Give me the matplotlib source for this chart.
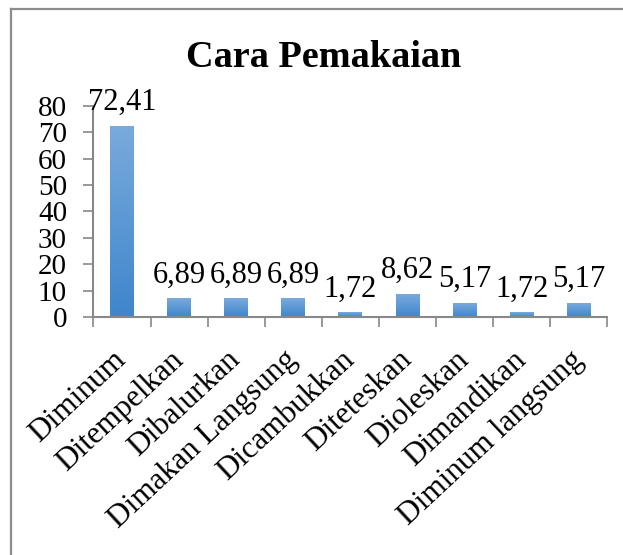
import numpy as np
import matplotlib.pyplot as plt
from matplotlib.colors import LinearSegmentedColormap
from matplotlib.lines import Line2D

# data
kategori = ['Diminum', 'Ditempelkan', 'Dibalurkan', 'Dimakan Langsung', 'Dicambukkan',
            'Diteteskan', 'Dioleskan', 'Dimandikan', 'Diminum langsung']
persen = [72.41, 6.89, 6.89, 6.89, 1.72, 8.62, 5.17, 1.72, 5.17]
yticks = [0, 10, 20, 30, 40, 50, 60, 70, 80]

plt.rcParams['font.family'] = ['Liberation Serif', 'DejaVu Serif']

fig = plt.figure(figsize=(6.23, 5.55), dpi=100)
ax = fig.add_axes([0.150, 0.429, 0.825, 0.380])

x = np.arange(len(kategori))
bars = ax.bar(x, persen, width=0.42, color='none', zorder=2)

# gradasi biru seperti Excel
cmap = LinearSegmentedColormap.from_list('biru', ['#3f86cc', '#79aadc'])
grad = np.linspace(0, 1, 100).reshape(-1, 1)
for b in bars:
    x0, y0 = b.get_x(), b.get_y()
    ax.imshow(grad, cmap=cmap, origin='lower', aspect='auto',
              extent=[x0, x0 + b.get_width(), y0, y0 + b.get_height()], zorder=2)

# label data dengan koma desimal
for xi, v in zip(x, persen):
    ax.annotate(f'{v:.2f}'.replace('.', ','), (xi, v), xytext=(0, 11.5),
                textcoords='offset points', ha='center', va='baseline', fontsize=22)

ax.set_xlim(-0.5, len(kategori) - 0.5)
ax.set_ylim(0, 80)
ax.set_yticks(yticks)
ax.set_yticklabels([str(t) for t in yticks], fontsize=21)

ax.set_xticks(x)
ax.set_xticklabels(kategori, rotation=43, ha='right', va='center',
                   rotation_mode='anchor', fontsize=22.5)
ax.set_xticks(np.arange(len(kategori) + 1) - 0.5, minor=True)
ax.tick_params(axis='x', which='major', length=0, pad=28)
ax.tick_params(axis='x', which='minor', length=7, width=1.2, color='#888888', direction='out')
ax.tick_params(axis='y', length=7, width=1.2, color='#888888', direction='out', pad=12)

for s in ['top', 'right']:
    ax.spines[s].set_visible(False)
for s in ['left', 'bottom']:
    ax.spines[s].set_color('#888888')
    ax.spines[s].set_linewidth(1.5)

fig.text(0.52, 0.879, 'Cara Pemakaian', ha='center', va='baseline',
         fontsize=27.5, fontweight='bold')

# bingkai grafik (kiri dan atas)
fig.add_artist(Line2D([11 / 623, 11 / 623], [0, 1 - 9 / 555], color='#8c8c8c', lw=1.6,
                      transform=fig.transFigure))
fig.add_artist(Line2D([11 / 623, 1], [1 - 9 / 555, 1 - 9 / 555], color='#8c8c8c', lw=1.6,
                      transform=fig.transFigure))

fig.savefig('out.png', dpi=100)
